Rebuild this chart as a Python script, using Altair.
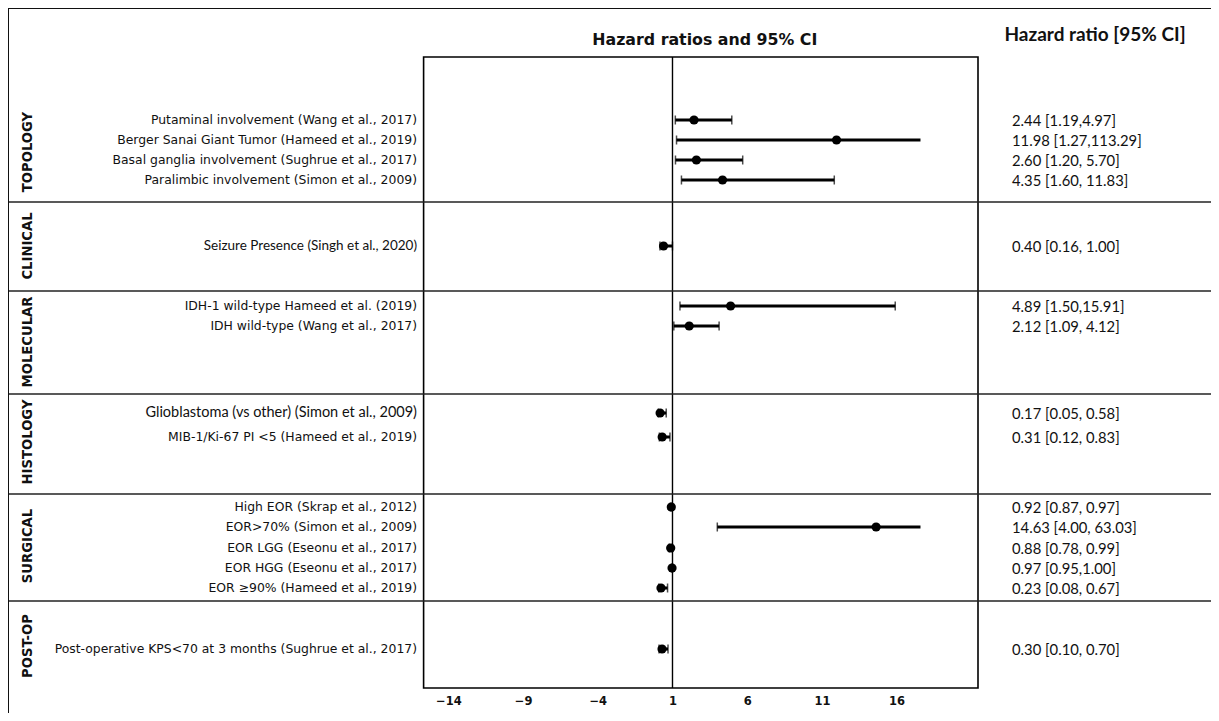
import altair as alt
import pandas as pd

# ---------------- data ----------------
groups = ["TOPOLOGY"] * 4 + ["CLINICAL"] + ["MOLECULAR"] * 2 + ["HISTOLOGY"] * 2 + ["SURGICAL"] * 5 + ["POST-OP"]
studies = [
    "Putaminal involvement (Wang et al., 2017)",
    "Berger Sanai Giant Tumor (Hameed et al., 2019)",
    "Basal ganglia involvement (Sughrue et al., 2017)",
    "Paralimbic involvement (Simon et al., 2009)",
    "Seizure Presence (Singh et al., 2020)",
    "IDH-1 wild-type Hameed et al. (2019)",
    "IDH wild-type (Wang et al., 2017)",
    "Glioblastoma (vs other) (Simon et al., 2009)",
    "MIB-1/Ki-67 PI <5 (Hameed et al., 2019)",
    "High EOR (Skrap et al., 2012)",
    "EOR>70%  (Simon et al., 2009)",
    "EOR LGG (Eseonu et al., 2017)",
    "EOR HGG (Eseonu et al., 2017)",
    "EOR \u226590% (Hameed et al., 2019)",
    "Post-operative KPS<70 at 3 months (Sughrue et al., 2017)",
]
hr = [2.44, 11.98, 2.60, 4.35, 0.40, 4.89, 2.12, 0.17, 0.31, 0.92, 14.63, 0.88, 0.97, 0.23, 0.30]
ci_low = [1.19, 1.27, 1.20, 1.60, 0.16, 1.50, 1.09, 0.05, 0.12, 0.87, 4.00, 0.78, 0.95, 0.08, 0.10]
ci_high = [4.97, 113.29, 5.70, 11.83, 1.00, 15.91, 4.12, 0.58, 0.83, 0.97, 63.03, 0.99, 1.00, 0.67, 0.70]
hr_text = [
    "2.44 [1.19,4.97]", "11.98 [1.27,113.29]", "2.60 [1.20, 5.70]", "4.35 [1.60, 11.83]",
    "0.40 [0.16, 1.00]",
    "4.89 [1.50,15.91]", "2.12 [1.09, 4.12]",
    "0.17 [0.05, 0.58]", "0.31 [0.12, 0.83]",
    "0.92 [0.87, 0.97]", "14.63 [4.00, 63.03]", "0.88 [0.78, 0.99]", "0.97 [0.95,1.00]", "0.23 [0.08, 0.67]",
    "0.30 [0.10, 0.70]",
]
# row slot of each study (table rows, top = 0)
row_slot = [3.15, 4.15, 5.15, 6.15, 9.45, 12.45, 13.45, 17.8, 19.0, 22.5, 23.5, 24.55, 25.55, 26.55, 29.6]
# label face used in the original table: 0 = grotesque, 1 = Calibri-like, 2 = wide Calibri-like
label_face = [0, 0, 0, 0, 1, 0, 0, 2, 0, 0, 0, 0, 0, 0, 0]

group_names = ["TOPOLOGY", "CLINICAL", "MOLECULAR", "HISTOLOGY", "SURGICAL", "POST-OP"]
group_slot = [4.75, 9.45, 14.25, 19.25, 24.45, 29.45]
separator_slot = [7.25, 11.7, 16.85, 21.85, 27.2]
x_ticks = [-14, -9, -4, 1, 6, 11, 16]
x_domain = [-15.66, 21.45]
y_domain = [0, 31.55]
whisker_limit = 17.6
headers = ["Hazard ratios and 95% CI", "Hazard ratio [95% CI]"]

df = pd.DataFrame({
    "group": groups, "study": studies, "hr": hr, "lo": ci_low, "hi": ci_high,
    "txt": hr_text, "slot": row_slot, "face": label_face,
})
gdf = pd.DataFrame({"name": group_names, "slot": group_slot})
sdf = pd.DataFrame({"slot": separator_slot})

W, H = 554.4, 631
PAD_L, PAD_T = 415.6, 49
PAD_R = 1203 - PAD_L - W
PAD_B = 705 - PAD_T - H

xs = alt.Scale(domain=x_domain, nice=False, zero=False)
ys = alt.Scale(domain=y_domain, nice=False, zero=False, reverse=True)
xaxis = alt.Axis(values=x_ticks, title=None, grid=False, ticks=False, domain=False,
                 labelFont="DejaVu Sans", labelFontWeight="bold", labelFontSize=11.5,
                 labelColor="#111", labelPadding=7)
Y = alt.Y("slot:Q", scale=ys, axis=None)

base = alt.Chart(df)

whisker = base.transform_calculate(
    hi_plot=f"min(datum.hi, {whisker_limit})"
).mark_rule(color="black", strokeWidth=3).encode(
    x=alt.X("lo:Q", scale=xs, axis=xaxis), x2="hi_plot:Q", y=Y
)
cap_lo = base.mark_tick(orient="vertical", color="black", size=9, thickness=1.5).encode(
    x=alt.X("lo:Q", scale=xs, axis=xaxis), y=Y
)
cap_hi = base.transform_filter(f"datum.hi <= {whisker_limit}").mark_tick(
    orient="vertical", color="black", size=9, thickness=1.5
).encode(x=alt.X("hi:Q", scale=xs, axis=xaxis), y=Y)
points = base.mark_circle(color="black", opacity=1, size=85).encode(
    x=alt.X("hr:Q", scale=xs, axis=xaxis), y=Y
)
zero_line = alt.Chart(pd.DataFrame({"ref": [1]})).mark_rule(color="black", strokeWidth=1.4).encode(
    x=alt.X("ref:Q", scale=xs, axis=xaxis)
)

separators = alt.Chart(sdf).mark_rule(color="#222", strokeWidth=1.5).encode(
    x=alt.value(-PAD_L), x2=alt.value(W + PAD_R), y=Y
)
frame_top = alt.Chart(pd.DataFrame({"k": [0]})).mark_rule(color="#111", strokeWidth=2).encode(
    x=alt.value(-PAD_L), x2=alt.value(W + PAD_R), y=alt.value(-PAD_T)
)
frame_left = alt.Chart(pd.DataFrame({"k": [0]})).mark_rule(color="#111", strokeWidth=2).encode(
    x=alt.value(-PAD_L), y=alt.value(-PAD_T), y2=alt.value(H + PAD_B)
)

labels_main = alt.Chart(df).transform_filter("datum.face == 0").mark_text(
    align="right", baseline="middle", font="DejaVu Sans", fontSize=12.4, color="#111"
).encode(x=alt.value(-6.6), y=Y, text="study:N")
labels_alt = alt.Chart(df).transform_filter("datum.face == 1").mark_text(
    align="right", baseline="middle", font="Lato", fontSize=13.5, color="#111"
).encode(x=alt.value(-6.6), y=Y, text="study:N")
labels_alt2 = alt.Chart(df).transform_filter("datum.face == 2").mark_text(
    align="right", baseline="middle", font="Lato", fontSize=14.5, color="#111"
).encode(x=alt.value(-6.6), y=Y, text="study:N")

hr_col = alt.Chart(df).mark_text(
    align="left", baseline="middle", font="Lato", fontSize=14.8, color="#111", dy=2
).encode(x=alt.value(588.4), y=Y, text="txt:N")

group_labels = alt.Chart(gdf).mark_text(
    angle=270, align="center", baseline="middle", font="DejaVu Sans", fontWeight="bold",
    fontSize=13.2, color="#111"
).encode(x=alt.value(-395.6), y=Y, text="name:N")

hdf = pd.DataFrame({"h": headers})
title_plot = alt.Chart(hdf).transform_filter(f"datum.h == '{headers[0]}'").mark_text(
    align="center", baseline="middle", font="DejaVu Sans", fontWeight="bold", fontSize=15.8, color="#111"
).encode(x=alt.value(W / 2 + 4), y=alt.value(-17), text="h:N")
title_col = alt.Chart(hdf).transform_filter(f"datum.h == '{headers[1]}'").mark_text(
    align="center", baseline="middle", font="Lato", fontWeight="bold", fontSize=19, color="#111"
).encode(x=alt.value(671.4), y=alt.value(-22), text="h:N")

chart = alt.layer(
    zero_line, separators, frame_top, frame_left,
    whisker, cap_lo, cap_hi, points,
    labels_main, labels_alt, labels_alt2, hr_col, group_labels, title_plot, title_col,
).properties(
    width=W, height=H,
    autosize=alt.AutoSizeParams(type="none"),
    padding={"left": PAD_L, "top": PAD_T, "right": PAD_R, "bottom": PAD_B},
    background="white",
).configure_view(stroke="black", strokeWidth=1.6)

chart.save("out.html", embed_options={"renderer": "svg", "actions": False})
